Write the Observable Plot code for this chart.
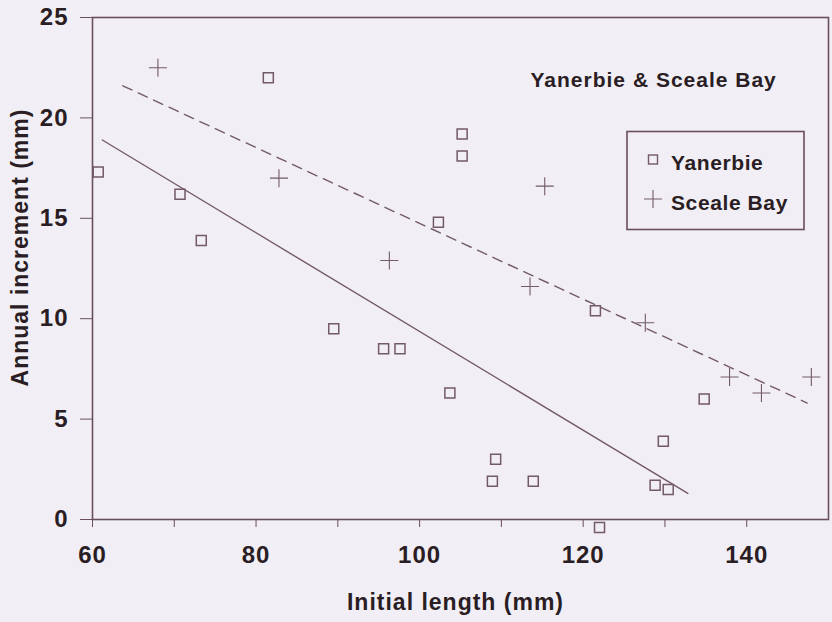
<!DOCTYPE html>
<html>
<head>
<meta charset="utf-8">
<script src="https://cdn.jsdelivr.net/npm/d3@7"></script>
<script src="https://cdn.jsdelivr.net/npm/@observablehq/plot@0.6"></script>
<style>
  html, body { margin: 0; padding: 0; background: #f1eff5; }
  #wrap { position: relative; width: 832px; height: 622px; }
  #wrap svg text { letter-spacing: 1px; }
</style>
</head>
<body>
<div id="wrap"></div>
<script>
// ---- data ----
const yanerbieX = [60.7, 70.7, 73.3, 81.5, 89.5, 95.6, 97.6, 103.7, 105.2, 105.2, 102.3, 109.3, 108.9, 113.9, 122.0, 121.5, 128.8, 130.4, 129.8, 134.8];
const yanerbieY = [17.3, 16.2, 13.9, 22.0, 9.5, 8.5, 8.5, 6.3, 19.2, 18.1, 14.8, 3.0, 1.9, 1.9, -0.4, 10.4, 1.7, 1.5, 3.9, 6.0];
const scealeX = [68.0, 82.8, 96.3, 115.3, 113.5, 127.6, 137.9, 141.8, 147.9];
const scealeY = [22.5, 17.0, 12.9, 16.6, 11.6, 9.8, 7.1, 6.3, 7.1];
// fitted regression lines (end points as drawn)
const yanFitX = [61.2, 132.8];
const yanFitY = [18.9, 1.3];
const scealeFitX = [63.7, 147.4];
const scealeFitY = [21.6, 5.8];
// axes
const xDomain = [60, 150];
const yDomain = [0, 25];
const xMinorTicks = [60, 70, 80, 90, 100, 110, 120, 130, 140];
const xLabelTicks = [60, 80, 100, 120, 140];
const yTicks = [0, 5, 10, 15, 20, 25];
const seriesNames = ["Yanerbie", "Sceale Bay"];
const annotation = "Yanerbie & Sceale Bay";
const xTitle = "Initial length (mm)";
const yTitle = "Annual increment (mm)";

const textColor = "#2a1d23";
const frameColor = "#6a4f5a";
const markColor = "#735a64";
const font = "'Liberation Sans', Arial, Helvetica, sans-serif";

const yan = yanerbieX.map((x, i) => ({x, y: yanerbieY[i]}));
const sce = scealeX.map((x, i) => ({x, y: scealeY[i]}));
const yanFit = yanFitX.map((x, i) => ({x, y: yanFitY[i]}));
const sceFit = scealeFitX.map((x, i) => ({x, y: scealeFitY[i]}));

const squareSym = {draw(ctx, size) { const r = Math.sqrt(size / Math.PI); ctx.moveTo(-r, -r); ctx.lineTo(r, -r); ctx.lineTo(r, r); ctx.lineTo(-r, r); ctx.closePath(); }};
const plusSym = {draw(ctx, size) { const r = Math.sqrt(size / Math.PI); ctx.moveTo(-r, 0); ctx.lineTo(r, 0); ctx.moveTo(0, -r); ctx.lineTo(0, r); }};

const chart = Plot.plot({
  width: 832,
  height: 622,
  marginTop: 17,
  marginBottom: 103,
  marginLeft: 92,
  marginRight: 4,
  style: {background: "#f1eff5", color: textColor, fontFamily: font, fontWeight: "bold", fontSize: "24px"},
  x: {domain: xDomain},
  y: {domain: yDomain},
  marks: [
    Plot.frame({stroke: frameColor, strokeWidth: 1.6}),
    Plot.axisY({ticks: yTicks, tickSize: 12, tickPadding: 12, fontSize: 24, fontWeight: "bold", stroke: frameColor, label: null}),
    Plot.axisX({ticks: xMinorTicks, tickSize: 8, tickFormat: () => "", stroke: frameColor, label: null}),
    Plot.axisX({ticks: xLabelTicks, tickSize: 0, tickPadding: 26, fontSize: 24, fontWeight: "bold", label: null}),
    Plot.line(yanFit, {x: "x", y: "y", stroke: markColor, strokeWidth: 1.4}),
    Plot.line(sceFit, {x: "x", y: "y", stroke: markColor, strokeWidth: 1.4, strokeDasharray: "10,7"}),
    Plot.dot(yan, {x: "x", y: "y", symbol: squareSym, r: 5, stroke: markColor, fill: "#f1eff5", strokeWidth: 1.5}),
    Plot.dot(sce, {x: "x", y: "y", symbol: plusSym, r: 9, stroke: markColor, strokeWidth: 1.1}),
    Plot.text([annotation], {text: d => d, frameAnchor: "top-left", dx: 438, dy: 63, textAnchor: "start", lineAnchor: "middle", fontSize: 21, fontWeight: "bold", fill: textColor}),
    Plot.text([xTitle], {text: d => d, frameAnchor: "bottom", dx: -5, dy: 74, textAnchor: "middle", lineAnchor: "top", fontSize: 23, fontWeight: "bold", fill: textColor}),
    Plot.text([yTitle], {text: d => d, frameAnchor: "left", rotate: -90, dx: -72, dy: -21, textAnchor: "middle", lineAnchor: "middle", fontSize: 23, fontWeight: "bold", fill: textColor})
  ]
});

const wrap = document.getElementById("wrap");
wrap.appendChild(chart);

// legend box
const ns = "http://www.w3.org/2000/svg";
const leg = document.createElementNS(ns, "svg");
leg.setAttribute("width", 180);
leg.setAttribute("height", 102);
leg.style.position = "absolute";
leg.style.left = "626px";
leg.style.top = "130px";
leg.innerHTML = `
  <rect x="1" y="1.5" width="177" height="98" fill="#f1eff5" stroke="${frameColor}" stroke-width="1.6"/>
  <rect x="22.5" y="25" width="9" height="9" fill="none" stroke="${markColor}" stroke-width="1.4"/>
  <path d="M18,69H36M27,60V78" stroke="${markColor}" stroke-width="1.1"/>
  <text x="45" y="40" font-family="${font}" font-weight="bold" font-size="21" fill="${textColor}" style="letter-spacing:0.6px">${seriesNames[0]}</text>
  <text x="45" y="80" font-family="${font}" font-weight="bold" font-size="21" fill="${textColor}" style="letter-spacing:0.6px">${seriesNames[1]}</text>
`;
wrap.appendChild(leg);
</script>
</body>
</html>
